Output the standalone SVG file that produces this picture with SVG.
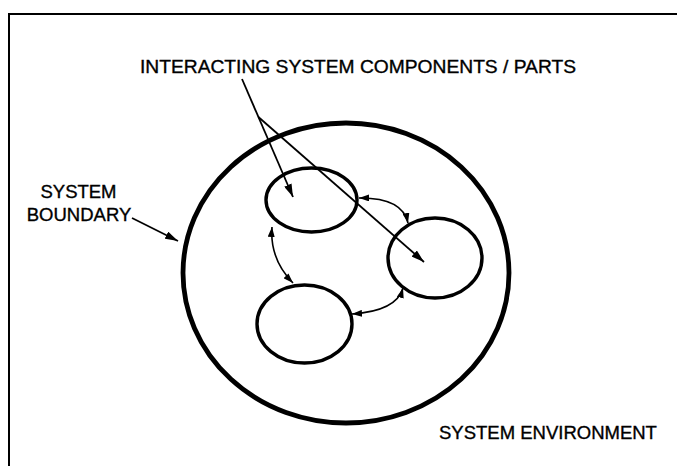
<svg xmlns="http://www.w3.org/2000/svg" width="677" height="466" viewBox="0 0 677 466">
  <style>
    .lbl { font-family: "Liberation Sans", Arial, Helvetica, sans-serif; font-size: 18.5px; fill: #000; stroke: #000; stroke-width: 0.35px; }
    .frame { fill: none; stroke: #000; stroke-width: 2; }
    .boundary { fill: none; stroke: #000; stroke-width: 4.8; }
    .part { fill: none; stroke: #000; stroke-width: 3.4; }
    .ptr { fill: none; stroke: #000; stroke-width: 1.8; }
    .link { fill: none; stroke: #000; stroke-width: 1.6; }
  </style>
  <defs>
    <marker id="head" viewBox="0 0 13 8" refX="13" refY="4" markerWidth="13" markerHeight="8" markerUnits="userSpaceOnUse" orient="auto-start-reverse">
      <path d="M0,0 L13,4 L0,8 Z" fill="#000"/>
    </marker>
    <marker id="headS" viewBox="0 0 10 7" refX="10" refY="3.5" markerWidth="10" markerHeight="7" markerUnits="userSpaceOnUse" orient="auto-start-reverse">
      <path d="M0,0 L10,3.5 L0,7 Z" fill="#000"/>
    </marker>
  </defs>

  <!-- environment frame -->
  <g id="environment">
    <path class="frame" d="M9,466 L9,14 L677,14"/>
    <text class="lbl" x="439" y="439">SYSTEM ENVIRONMENT</text>
  </g>

  <!-- system boundary -->
  <g id="system">
    <ellipse class="boundary" cx="346" cy="273" rx="163" ry="150"/>
  </g>

  <!-- components -->
  <g id="part-a">
    <ellipse class="part" cx="311.5" cy="200" rx="45.5" ry="32"/>
  </g>
  <g id="part-b">
    <ellipse class="part" cx="435" cy="258" rx="47" ry="40"/>
  </g>
  <g id="part-c">
    <ellipse class="part" cx="304.5" cy="324" rx="47.5" ry="39"/>
  </g>

  <!-- labels -->
  <g id="label-parts">
    <text class="lbl" x="140" y="73" textLength="436" lengthAdjust="spacingAndGlyphs">INTERACTING SYSTEM COMPONENTS / PARTS</text>
  </g>
  <g id="label-boundary">
    <text class="lbl" x="78.5" y="198" text-anchor="middle">SYSTEM</text>
    <text class="lbl" x="79" y="221" text-anchor="middle">BOUNDARY</text>
  </g>

  <!-- connectors -->
  <g id="connectors">
    <path class="ptr" d="M242,79 L293,197" marker-end="url(#head)"/>
    <path class="ptr" d="M258.4,117 L424,262" marker-end="url(#head)"/>
    <path class="ptr" d="M132,218 L178,241" marker-end="url(#head)"/>
    <path class="link" d="M359,198 Q402.5,197.5 408,223" marker-start="url(#headS)" marker-end="url(#headS)"/>
    <path class="link" d="M272,227 Q269.5,259 293,283" marker-start="url(#headS)" marker-end="url(#headS)"/>
    <path class="link" d="M352,314 Q396.5,311 403,288" marker-start="url(#headS)" marker-end="url(#headS)"/>
  </g>
</svg>
